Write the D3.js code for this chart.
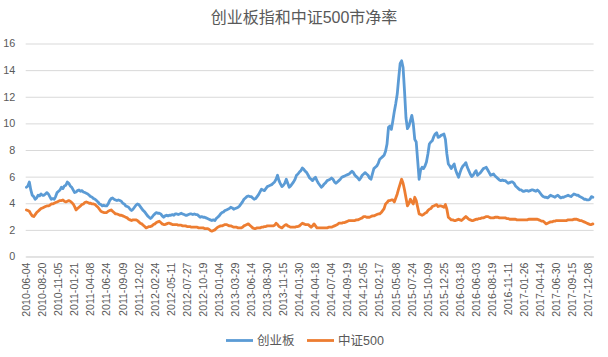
<!DOCTYPE html>
<html><head><meta charset="utf-8">
<script src="https://cdn.jsdelivr.net/npm/d3@7"></script>
<style>
html,body{margin:0;padding:0;background:#fff;}
svg{display:block;font-family:"Liberation Sans","Noto Sans CJK SC",sans-serif;}
</style></head>
<body><svg id="c" width="608" height="357"></svg>
<script>
const title = "创业板指和中证500市净率";
const seriesNames = ["创业板", "中证500"];
const tickLabels = ["2010-06-04","2010-08-20","2010-11-05","2011-01-21","2011-04-08","2011-06-24","2011-09-09","2011-12-02","2012-02-24","2012-05-11","2012-07-27","2012-10-19","2013-01-04","2013-03-29","2013-06-14","2013-08-30","2013-11-15","2014-01-30","2014-04-18","2014-07-04","2014-09-19","2014-12-05","2015-02-17","2015-05-08","2015-07-24","2015-10-09","2015-12-25","2016-03-18","2016-06-03","2016-08-19","2016-11-11","2017-01-26","2017-04-14","2017-06-30","2017-09-15","2017-12-08"];
const yTicks = [0,2,4,6,8,10,12,14,16];
const cyb = [
5.2,5.3,5.6,5.0,4.6,4.5,4.3,4.4,4.6,4.55,
4.7,4.6,4.6,4.7,4.8,4.7,4.5,4.3,4.35,4.3,
4.5,4.8,4.9,5.0,5.2,5.1,5.3,5.35,5.6,5.5,
5.3,5.2,5.0,4.8,4.85,4.95,5.0,4.9,4.95,4.85,
4.8,4.75,4.7,4.6,4.5,4.45,4.35,4.3,4.2,4.1,
3.95,3.9,3.8,3.85,3.8,3.8,3.95,4.2,4.35,4.4,
4.3,4.25,4.2,4.25,4.2,4.15,4.0,3.95,3.8,3.75,
3.7,3.55,3.45,3.55,3.7,3.85,3.95,3.9,3.75,3.6,
3.45,3.35,3.2,3.05,2.95,2.85,2.95,3.1,3.2,3.3,
3.25,3.25,3.2,3.05,2.95,3.05,3.1,3.05,3.1,3.1,
3.15,3.1,3.2,3.2,3.15,3.2,3.25,3.2,3.15,3.1,
3.1,3.15,3.2,3.2,3.15,3.2,3.15,3.15,3.05,2.95,
3.0,2.95,2.95,2.9,2.85,2.8,2.75,2.7,2.75,2.7,
2.85,2.95,3.05,3.2,3.3,3.35,3.45,3.5,3.55,3.6,
3.7,3.65,3.55,3.6,3.65,3.7,3.8,3.95,4.1,4.3,
4.4,4.5,4.55,4.5,4.5,4.4,4.3,4.35,4.5,4.65,
4.85,5.05,5.0,4.95,5.1,5.25,5.3,5.35,5.4,5.5,
5.6,5.8,6.1,5.7,5.45,5.25,5.35,5.5,5.8,5.5,
5.2,5.3,5.45,5.6,5.8,6.1,6.2,6.35,6.45,6.65,
6.55,6.4,6.3,6.1,5.9,5.8,5.7,5.85,5.95,5.7,
5.5,5.35,5.2,5.3,5.45,5.55,5.7,5.75,5.8,5.9,
5.8,5.6,5.5,5.6,5.7,5.8,5.95,6.0,6.05,6.1,
6.15,6.2,6.3,6.4,6.3,6.1,6.0,5.9,5.75,5.9,
6.1,6.2,6.3,6.2,6.1,5.9,5.8,6.2,6.6,6.7,
6.8,7.0,7.3,7.4,7.5,7.6,7.9,8.45,9.7,9.8,
9.55,10.2,10.9,11.5,12.2,13.4,14.5,14.7,14.2,12.4,
10.4,9.6,9.8,10.2,10.6,9.95,8.8,8.6,7.2,5.8,
6.5,6.7,6.6,6.8,7.1,7.7,8.45,8.6,8.7,9.0,
9.2,9.3,8.95,9.0,9.1,9.15,9.2,8.8,7.7,6.95,
6.8,6.6,6.8,6.95,6.5,6.2,5.95,6.3,6.6,6.8,
6.9,7.05,6.7,6.45,6.2,6.0,6.1,6.3,6.45,6.1,
6.2,6.3,6.45,6.6,6.65,6.7,6.5,6.3,6.1,6.15,
6.2,6.05,5.95,5.85,5.75,5.7,5.75,5.7,5.7,5.6,
5.5,5.55,5.6,5.6,5.5,5.3,5.2,5.1,5.0,5.0,
4.9,4.9,4.95,4.95,4.9,4.95,5.0,5.0,4.95,4.9,
5.0,4.9,4.75,4.6,4.5,4.45,4.45,4.4,4.5,4.6,
4.55,4.5,4.45,4.55,4.6,4.5,4.4,4.45,4.45,4.5,
4.55,4.6,4.55,4.5,4.6,4.7,4.65,4.6,4.6,4.5,
4.45,4.4,4.3,4.3,4.25,4.25,4.3,4.5,4.45
];
const zz500 = [
3.5,3.45,3.4,3.2,3.05,3.0,3.15,3.3,3.4,3.5,
3.6,3.65,3.7,3.75,3.8,3.8,3.85,3.95,3.95,4.0,
4.05,4.1,4.15,4.2,4.2,4.25,4.15,4.1,4.15,4.2,
4.15,4.05,3.95,3.75,3.5,3.6,3.7,3.8,3.9,3.95,
4.05,4.1,4.05,4.0,4.0,3.95,3.95,3.9,3.8,3.7,
3.55,3.4,3.35,3.3,3.3,3.3,3.4,3.45,3.5,3.4,
3.3,3.2,3.2,3.15,3.1,3.1,3.05,3.0,2.95,2.9,
2.8,2.75,2.7,2.75,2.75,2.75,2.7,2.6,2.5,2.45,
2.35,2.25,2.15,2.2,2.25,2.25,2.3,2.4,2.45,2.55,
2.6,2.65,2.55,2.45,2.4,2.4,2.45,2.5,2.5,2.45,
2.4,2.4,2.4,2.4,2.35,2.35,2.35,2.3,2.3,2.3,
2.25,2.25,2.25,2.2,2.2,2.2,2.2,2.2,2.15,2.15,
2.15,2.15,2.1,2.1,2.1,2.05,1.95,1.9,1.95,2.0,
2.1,2.2,2.25,2.3,2.3,2.35,2.4,2.4,2.35,2.3,
2.3,2.25,2.2,2.2,2.2,2.15,2.15,2.15,2.2,2.3,
2.35,2.4,2.45,2.35,2.25,2.15,2.1,2.1,2.15,2.15,
2.15,2.2,2.2,2.25,2.25,2.3,2.3,2.3,2.3,2.3,
2.35,2.5,2.4,2.25,2.2,2.15,2.25,2.35,2.4,2.3,
2.25,2.2,2.2,2.2,2.2,2.25,2.25,2.3,2.4,2.5,
2.45,2.4,2.4,2.4,2.3,2.2,2.3,2.45,2.3,2.15,
2.15,2.15,2.15,2.15,2.15,2.15,2.15,2.2,2.2,2.2,
2.25,2.3,2.35,2.4,2.5,2.5,2.5,2.55,2.55,2.6,
2.65,2.7,2.7,2.7,2.7,2.7,2.75,2.75,2.8,2.85,
2.9,3.0,3.0,2.95,2.95,2.95,3.0,3.05,3.05,3.1,
3.15,3.2,3.2,3.3,3.45,3.6,3.95,4.05,4.2,4.2,
4.25,4.25,4.1,4.4,4.7,5.1,5.45,5.8,5.5,5.0,
4.4,3.8,4.0,4.3,4.1,3.95,4.45,4.2,3.7,3.2,
3.15,3.1,3.15,3.25,3.3,3.45,3.55,3.6,3.75,3.8,
3.85,3.9,3.75,3.8,3.8,3.75,3.7,3.9,3.55,2.95,
2.85,2.75,2.75,2.7,2.7,2.75,2.8,2.75,2.7,2.8,
2.9,3.0,2.9,2.8,2.75,2.7,2.7,2.75,2.8,2.8,
2.85,2.85,2.9,2.9,2.95,3.0,3.0,2.95,2.9,2.9,
2.9,2.95,2.95,2.95,2.9,2.9,2.9,2.9,2.9,2.85,
2.85,2.8,2.8,2.8,2.8,2.8,2.75,2.75,2.75,2.75,
2.75,2.75,2.75,2.75,2.8,2.8,2.8,2.8,2.8,2.8,
2.8,2.75,2.7,2.65,2.65,2.55,2.45,2.5,2.55,2.6,
2.6,2.65,2.65,2.7,2.7,2.7,2.7,2.7,2.7,2.7,
2.7,2.75,2.75,2.75,2.75,2.8,2.8,2.8,2.75,2.7,
2.7,2.65,2.6,2.55,2.5,2.45,2.4,2.4,2.45
];
const colors = ["#5b9bd5", "#ed7d31"];

(function () {
const N = cyb.length;
const svg = d3.select("#c");
const pLeft = 25.7, pRight = 593.6, pTop = 43.5, pBottom = 256.5;
const x = d3.scaleBand().domain(d3.range(N)).range([pLeft, pRight]);
const y = d3.scaleLinear().domain([0, 16]).range([pBottom, pTop]);
const cx = i => x(i) + x.bandwidth() / 2;

// title
svg.append("text").attr("x", 304).attr("y", 23).attr("text-anchor", "middle")
  .attr("font-size", 16).attr("fill", "#595959").text(title);

// y axis + gridlines
const ya = svg.append("g").attr("transform", `translate(${pLeft},0)`)
  .call(d3.axisLeft(y).tickValues(yTicks).tickSize(-(pRight - pLeft)).tickPadding(10.5).tickFormat(d3.format("d")));
ya.select(".domain").remove();
ya.selectAll(".tick line").attr("stroke", "#d9d9d9").attr("stroke-width", 1);
ya.selectAll(".tick text").attr("fill", "#595959").attr("font-size", 10.8)
  .attr("font-family", "'Liberation Sans',sans-serif");

// x axis
const xa = svg.append("g").attr("transform", `translate(0,${pBottom})`)
  .call(d3.axisBottom(x).tickValues(d3.range(0, N, 11)).tickSize(0).tickFormat(i => tickLabels[i / 11]));
xa.select(".domain").attr("stroke", "#d9d9d9");
xa.selectAll(".tick text")
  .attr("fill", "#595959").attr("font-size", 10.6)
  .attr("font-family", "'Liberation Sans',sans-serif")
  .attr("transform", "rotate(-90)")
  .attr("text-anchor", "end")
  .attr("x", -6).attr("y", 0).attr("dy", "0.35em");

// lines
const line = d3.line().x((d, i) => cx(i)).y(d => y(d));
[cyb, zz500].forEach((s, k) => {
  svg.append("path").datum(s).attr("d", line).attr("fill", "none")
    .attr("stroke", colors[k]).attr("stroke-width", 2.8)
    .attr("stroke-linejoin", "round").attr("stroke-linecap", "round");
});

// legend
const lg = [{x: 226, tx: 257}, {x: 307, tx: 338}];
seriesNames.forEach((n, k) => {
  svg.append("line").attr("x1", lg[k].x).attr("x2", lg[k].x + 27).attr("y1", 340.5).attr("y2", 340.5)
    .attr("stroke", colors[k]).attr("stroke-width", 2.8);
  svg.append("text").attr("x", lg[k].tx).attr("y", 345).attr("font-size", 12.5)
    .attr("fill", "#595959").text(n);
});
})();
</script></body></html>
